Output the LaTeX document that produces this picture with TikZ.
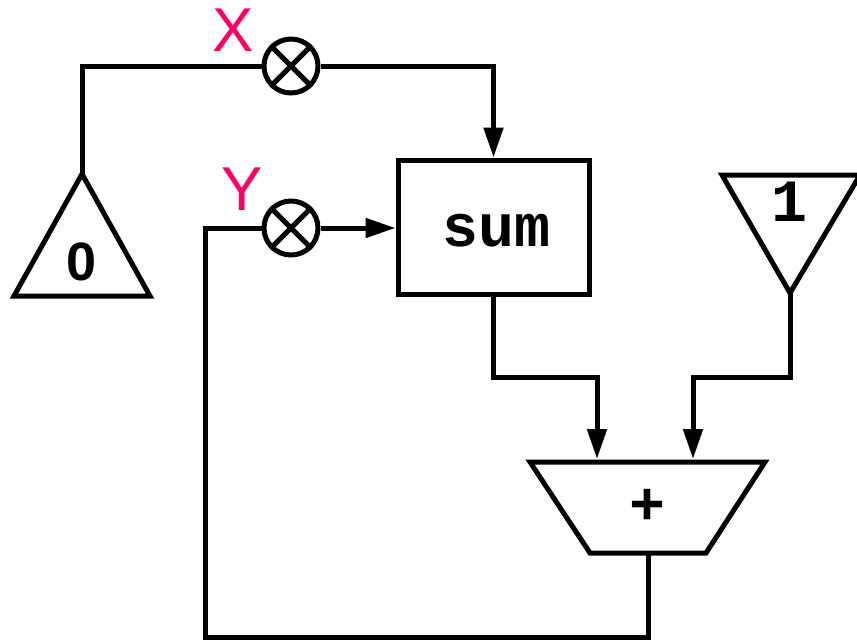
\documentclass[tikz,border=0pt]{standalone}
\usepackage{fontspec}
\setmainfont{Liberation Sans}
\setmonofont{Liberation Mono}
\usetikzlibrary{arrows.meta}
\definecolor{varpink}{RGB}{255,0,102}
\begin{document}
\begin{tikzpicture}[x=1pt,y=-1pt,line width=5pt,
  wire/.style={draw,line join=miter},
  flow/.style={wire,-{Triangle[length=30pt,width=19pt]}},
  block/.style={draw,fill=white,line join=miter},
  muxnode/.style={circle,draw,fill=white,minimum size=54pt,inner sep=0pt},
  varlabel/.style={text=varpink,inner sep=0pt,font=\fontsize{62}{62}\selectfont},
  consttext/.style={inner sep=0pt,font=\ttfamily\bfseries\fontsize{60}{60}\selectfont},
  digittext/.style={inner sep=0pt,font=\bfseries\fontsize{54}{54}\selectfont}]
\useasboundingbox (0,0) rectangle (857,641);

% constant 0 (upward triangle)
\draw[block] (82,174) -- (150,296) -- (14,296) -- cycle;
\coordinate (zeroTop) at (82,174);
\node[digittext] (zero) at (82,262) {0};

% constant 1 (downward triangle)
\draw[block] (722,175) -- (860,175) -- (790,293) -- cycle;
\coordinate (oneTip) at (790,293);
\node[consttext] (one) at (789,202) {1};

% accumulator register
\node[draw,line join=miter,minimum width=191pt,minimum height=134pt,inner sep=0pt]
      (sum) at (493.5,227) {};
\node[consttext] (sumtext) at (497,231) {sum};

% adder
\draw[block] (530,462) -- (765,462) -- (706,553) -- (590,553) -- cycle;
\node[consttext] (plus) at (647,507) {+};
\coordinate (addA) at (597,459);
\coordinate (addB) at (693,459);
\coordinate (addOut) at (648,553);

% multiplexers
\node[muxnode] (xm) at (291,66) {};
\draw (xm.45) -- (xm.225) (xm.135) -- (xm.315);
\node[muxnode] (ym) at (291,228) {};
\draw (ym.45) -- (ym.225) (ym.135) -- (ym.315);
\node[varlabel] (xlab) at (233,30) {X};
\node[varlabel] (ylab) at (242,189) {Y};

% routing points
\coordinate (sumJog) at (597,377);
\coordinate (oneJog) at (693,377);
\coordinate (loopCorner) at (205,637);

% connectors
\draw[wire] (zeroTop) |- (xm.west);
\draw[flow] (xm.east) -| (sum.north);
\draw[flow] (ym.east) -- (ym.east -| sum.west);
\draw[flow] (sum.south) |- (sumJog) -- (addA);
\draw[flow] (oneTip) |- (oneJog) -- (addB);
\draw[wire] (addOut) |- (loopCorner) |- (ym.west);
\end{tikzpicture}
\end{document}
